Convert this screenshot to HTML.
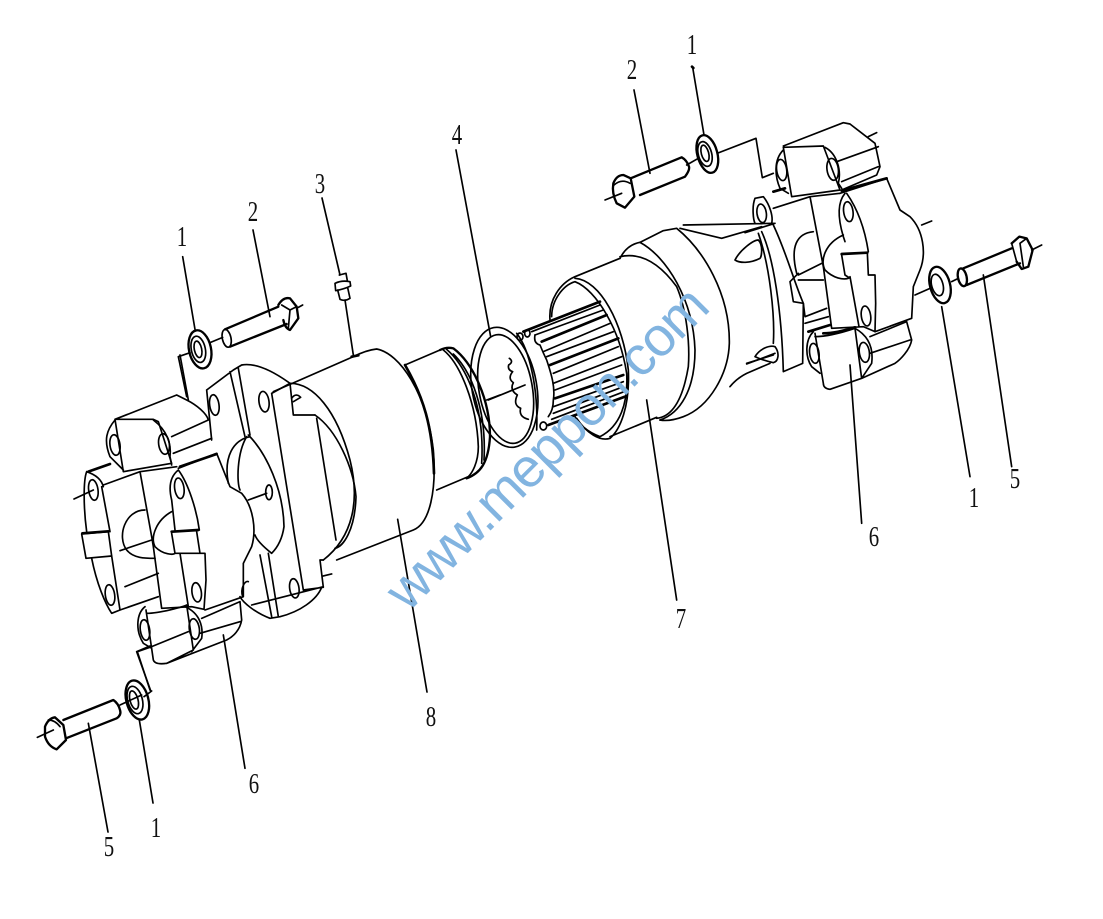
<!DOCTYPE html>
<html>
<head>
<meta charset="utf-8">
<style>
html,body{margin:0;padding:0;background:#fff;width:1103px;height:919px;overflow:hidden}
svg{display:block}
path,ellipse,line{fill:none;stroke:#000;stroke-linecap:round;stroke-linejoin:round}
.z path,.z ellipse{stroke-width:5}
.z .t{stroke-width:8}
.z .w{stroke-width:7}
.n{font-family:"Liberation Serif",serif;font-size:29px;fill:#111;text-anchor:middle}
</style>
</head>
<body>
<svg width="1103" height="919" viewBox="0 0 1103 919" xmlns="http://www.w3.org/2000/svg">
<rect width="1103" height="919" fill="#fff"/>

<!-- LEFT ASSEMBLY -->
<g class="z" transform="translate(60,340) scale(.33333)">
<path d="M640 155L880 50Q920 30 950 27C1020 40 1100 160 1120 330C1130 450 1110 550 1060 570L830 660"/>
<path class="t" d="M1035 75C1090 170 1118 260 1122 400"/>
<path class="t" d="M875 50L895 46"/>
<path d="M690 130C760 130 830 210 870 360C900 480 880 590 790 660"/>
<path d="M765 225C830 270 880 380 888 470C885 570 850 620 825 625M770 235L828 600"/>
<path d="M695 175C705 160 715 165 722 172L700 185"/>
<path d="M440 150L520 90L545 75Q600 65 690 130L700 225L765 225M440 150L455 300M635 160L730 750M510 95L555 290M535 85L570 285M635 160L690 130"/>
<ellipse cx="463" cy="195" rx="14" ry="31" transform="rotate(-8 463 195)"/>
<ellipse cx="612" cy="185" rx="15" ry="31" transform="rotate(-8 612 185)"/>
<ellipse cx="703" cy="745" rx="14" ry="29" transform="rotate(-8 703 745)"/>
<path d="M548 770C540 745 555 720 565 725"/>
<path d="M730 750L790 742L780 660L790 660M785 742C770 780 720 815 660 830L630 835C590 820 550 790 540 770M600 645L635 830M625 640L655 830M575 795L790 740M790 708L815 702"/>
<path d="M570 290C520 300 490 350 505 430M565 285C620 340 670 450 672 560C665 610 640 635 635 640C610 620 590 600 585 585M560 290C530 340 530 430 540 450"/>
<ellipse cx="627" cy="457" rx="10" ry="22"/>
<path d="M565 480L620 460"/>
<path d="M355 385L470 340L510 440L545 460C580 500 590 570 575 620L550 670L550 770L435 810"/>
<path class="t" d="M360 380L470 342"/>
<path d="M355 390C330 410 325 440 335 480L345 570M355 390C385 430 410 510 418 570"/>
<ellipse cx="358" cy="445" rx="14" ry="31" transform="rotate(-8 358 445)"/>
<path class="t" d="M335 575L415 570"/>
<path d="M335 580L345 640M410 575L420 640M345 640L435 640L438 720L432 808L395 800L305 805L280 620M360 640L385 800"/>
<ellipse cx="410" cy="757" rx="14" ry="29" transform="rotate(-8 410 757)"/>
<path d="M80 395C70 420 70 500 80 575M125 440L150 575M80 395C110 405 125 420 130 440M95 655C110 730 135 790 155 820L180 810L295 770M155 648L180 810"/>
<path d="M65 582L145 575L155 648L78 655Z"/>
<path class="t" d="M67 580L145 574M85 395L150 372"/>
<ellipse cx="100" cy="450" rx="14" ry="31" transform="rotate(-8 100 450)"/>
<ellipse cx="150" cy="765" rx="14" ry="31" transform="rotate(-8 150 765)"/>
<path d="M130 435L240 395L350 380M240 395L275 590L280 620"/>
<path d="M255 510C195 510 170 590 200 630C220 655 255 655 285 655M335 515C290 540 270 590 285 620C310 645 340 645 345 640M180 632L275 600M42 477L100 450M195 740L295 700"/>
<path d="M165 238L280 238L295 245L335 370L190 395ZM165 238L350 165L380 180C410 195 440 220 445 240M335 290L445 240M340 340L455 295M165 240C140 270 130 300 150 350L190 390"/>
<ellipse cx="165" cy="315" rx="15" ry="31" transform="rotate(-8 165 315)"/>
<ellipse cx="312" cy="312" rx="16" ry="31" transform="rotate(-8 312 312)"/>
<path d="M280 240C320 270 335 310 330 350L335 375"/>
<path d="M260 820C300 820 370 800 380 795L400 930L320 970Q285 975 280 960L258 810M255 800C230 820 225 870 250 910L275 925M375 800C420 820 430 860 425 895L395 935M425 835L540 785L545 840C540 870 520 890 500 900L320 970M420 880L540 845M275 920L385 875"/>
<ellipse cx="255" cy="870" rx="14" ry="31" transform="rotate(-8 255 870)"/>
<ellipse cx="403" cy="867" rx="15" ry="31" transform="rotate(-8 403 867)"/>
<path d="M360 45L385 180M232 935L275 920M232 935L270 1050M490 885L555 1285M1013 538L1101 1056"/>
</g>

<!-- LEFT TOP FASTENERS + SHAFT -->
<g class="z" transform="translate(170,250) scale(.33333)">
<path d="M38 20L75 238M249 -60L300 200M25 320L60 308M25 320L50 440M120 278L158 262"/>
<ellipse cx="90" cy="298" rx="33" ry="58" transform="rotate(-12 90 298)" class="w"/>
<ellipse cx="85" cy="298" rx="21" ry="40" transform="rotate(-12 85 298)"/>
<ellipse cx="84" cy="298" rx="11" ry="25" transform="rotate(-12 84 298)"/>
<ellipse cx="170" cy="265" rx="13" ry="27" transform="rotate(-12 170 265)"/>
<path class="w" d="M165 238L325 170M180 290L350 222"/>
<path class="w" d="M325 165Q340 140 360 145L380 170L385 205L360 240Q345 235 340 210"/>
<path d="M335 165L360 180L380 170M360 180L355 235M385 172L398 165"/>
<!-- grease fitting -->
<path d="M456 -156L503 45M503 45L510 75M508 75L528 70L532 92M495 100Q515 90 540 95L542 108Q520 118 497 122ZM503 120L510 148Q525 155 540 145L533 113M525 150L550 315"/>
<!-- shaft end -->
<path d="M705 345L810 300M800 720L895 680"/>
<path class="w" d="M810 300Q830 290 850 295C910 340 960 450 960 560C955 640 930 670 890 685"/>
<path d="M830 298C890 350 945 470 935 640M850 312C905 365 950 480 942 630M820 300C870 340 920 460 925 590C925 640 905 670 895 680M950 450L990 435"/>
</g>

<!-- CENTRE -->
<g class="z" transform="translate(450,210) scale(.33333)">
<ellipse cx="163" cy="532" rx="97" ry="182" transform="rotate(-10 163 532)"/>
<ellipse cx="167" cy="537" rx="80" ry="165" transform="rotate(-10 167 537)"/>
<path d="M178 445Q192 455 176 465Q172 480 188 485Q172 505 190 518Q178 540 202 555Q188 585 212 595Q205 620 235 628"/>
<path d="M115 570L225 525"/>
<path d="M200 370C240 420 265 540 260 660"/>
<path d="M375 200L510 145M375 200C330 220 295 270 300 330M305 320C305 270 340 225 375 215C440 240 510 360 530 490C535 580 510 650 450 680C410 665 385 640 375 620M375 205C450 210 520 340 535 480C540 590 510 660 480 685C450 695 410 670 380 625M480 680L620 622"/>
<path d="M510 145Q530 105 570 97C650 140 730 270 735 420C735 540 690 610 630 630M510 140Q600 120 680 230C710 300 720 400 715 470C700 560 670 620 620 625"/>
<path d="M570 97L640 62L680 55C760 120 840 250 838 400C835 490 780 590 700 620Q660 635 630 630"/>
<path d="M700 45L970 40M690 55L815 85L935 50M885 68L975 40"/>
<path d="M855 150C870 120 910 90 925 90C940 105 935 140 930 145C900 160 870 160 855 150Z"/>
<path d="M915 440C930 415 960 405 975 410C990 430 985 455 970 458Q935 450 915 440ZM890 462L975 430"/>
<path d="M590 570L680 1170M18 -180L122 380"/>
</g>

<!-- SPLINES -->
<g class="z" transform="translate(510,290) scale(.33333)">
<path class="t" d="M40 125L270 35M95 155L290 75M120 225L325 145M135 325L340 255M115 405L345 320"/>
<path d="M65 125L270 45M75 135L280 60M100 185L300 100M110 200L310 125M130 250L325 170M130 280L335 200M135 300L335 225M130 350L340 275M130 370L340 290M125 388L342 305"/>
<ellipse cx="30" cy="140" rx="9" ry="11"/>
<ellipse cx="52" cy="130" rx="8" ry="11"/>
<ellipse cx="100" cy="408" rx="10" ry="12"/>
<path d="M75 135Q70 160 90 165Q100 190 110 210Q120 240 125 260Q135 300 130 330Q130 360 115 380"/>
</g>

<!-- RIGHT ASSEMBLY -->
<g class="z" transform="translate(730,110) scale(.33333)">
<path d="M160 112L280 108L330 240L185 260ZM160 108L340 38L360 42L435 100L450 170L440 195L335 240M320 155L445 110M335 215L445 170M160 120C130 150 135 200 150 235L175 250M285 112C320 130 335 180 325 220L335 235M415 80L440 68"/>
<ellipse cx="155" cy="180" rx="15" ry="32" transform="rotate(-8 155 180)"/>
<ellipse cx="308" cy="178" rx="17" ry="33" transform="rotate(-8 308 178)"/>
<path d="M-36 129L78 85L97 203L130 190"/>
<path d="M330 250L470 205L510 300L540 320C580 360 590 430 570 480L550 530L545 625L435 665M575 345L605 333"/>
<path class="t" d="M335 242L470 205M130 245L165 235"/>
<path d="M345 250C320 280 325 330 340 380L345 395M350 250C385 300 405 360 415 425"/>
<ellipse cx="355" cy="305" rx="14" ry="30" transform="rotate(-8 355 305)"/>
<path class="t" d="M335 432L412 428"/>
<path d="M335 435L345 495L360 505M412 428L415 495L435 495L437 580L435 665L400 650L305 655L280 470M360 500L387 650"/>
<ellipse cx="408" cy="618" rx="14" ry="30" transform="rotate(-8 408 618)"/>
<path d="M75 265C65 290 70 330 75 340M75 265L100 260C120 285 130 320 125 340"/>
<ellipse cx="95" cy="310" rx="14" ry="28" transform="rotate(-8 95 310)"/>
<path d="M130 295L240 260L330 250M240 260L280 470M250 365C200 370 180 410 200 490M205 495L275 460M340 375C285 400 270 450 285 480C310 505 340 510 355 505M205 510L280 510M180 515L205 490M180 515L190 575L220 580L225 620L290 595M225 640L295 620"/>
<path d="M95 365C130 440 155 600 160 785M130 345C170 430 190 510 220 580L218 760L160 785M50 760L130 735M0 830Q20 805 50 790L120 760M85 370C120 470 135 620 130 700"/>
<path d="M255 680C300 680 360 660 375 655L395 805L300 838Q280 835 280 820L255 670M250 665C225 690 225 740 245 770L270 790M375 655C420 680 430 720 425 760L395 805M420 680L530 635L545 690C540 720 510 750 495 760L395 805M420 730L540 690"/>
<path class="t" d="M235 665L300 645M280 670C310 670 350 660 375 652"/>
<ellipse cx="253" cy="730" rx="14" ry="30" transform="rotate(-8 253 730)"/>
<ellipse cx="403" cy="727" rx="15" ry="30" transform="rotate(-8 403 727)"/>
<path d="M360 765L395 1240"/>
<path class="w" d="M700 475L845 415M710 525L870 460M845 400L868 380L890 385L908 420L895 470L875 477L860 455"/>
<path d="M845 400L860 455M870 400L890 385M870 400L880 470M905 420L935 405M555 555L600 535M665 515L685 505M760 495L845 1070M635 590L720 1100"/>
<ellipse cx="697" cy="502" rx="13" ry="27" transform="rotate(-12 697 502)" class="w"/>
<ellipse cx="630" cy="525" rx="30" ry="56" transform="rotate(-15 630 525)" class="w"/>
<ellipse cx="622" cy="525" rx="17" ry="33" transform="rotate(-15 622 525)"/>
</g>

<!-- TOP BOLT -->
<g class="z" transform="translate(590,30) scale(.33333)">
<path d="M132 180L180 430M308 112L342 315M290 405L325 385"/>
<path class="t" d="M306 110L310 114"/>
<ellipse cx="352" cy="372" rx="30" ry="58" transform="rotate(-15 352 372)" class="w"/>
<ellipse cx="345" cy="372" rx="20" ry="38" transform="rotate(-15 345 372)"/>
<ellipse cx="345" cy="370" rx="11" ry="25" transform="rotate(-15 345 370)"/>
<path class="w" d="M122 445L275 382Q290 390 297 410Q300 420 285 440L150 495"/>
<path class="w" d="M70 460Q80 435 100 435L122 445L133 500L105 533L80 520Q65 490 70 460Z"/>
<path d="M72 465Q95 445 120 460M45 510L95 490"/>
</g>

<!-- BOTTOM BOLT -->
<g class="z" transform="translate(30,640) scale(.33333)">
<path class="w" d="M45 260Q55 235 75 232L100 255L108 300L80 328Q55 320 45 290ZM100 240L250 180Q265 190 270 210Q275 225 260 235L108 295"/>
<path d="M55 240Q75 240 90 260M22 292L70 270M270 195L335 165M175 250L234 576M328 240L369 489M320 35L362 152M320 35L360 18M342 170L365 153"/>
<ellipse cx="322" cy="180" rx="33" ry="60" transform="rotate(-15 322 180)" class="w"/>
<ellipse cx="315" cy="180" rx="22" ry="42" transform="rotate(-15 315 180)"/>
<ellipse cx="312" cy="180" rx="12" ry="28" transform="rotate(-15 312 180)"/>
</g>

<!-- numbers -->
<g class="n">
<text transform="translate(182,246) scale(.72,1)">1</text>
<text transform="translate(253,221) scale(.72,1)">2</text>
<text transform="translate(320,193) scale(.72,1)">3</text>
<text transform="translate(457,144) scale(.72,1)">4</text>
<text transform="translate(632,79) scale(.72,1)">2</text>
<text transform="translate(692,54) scale(.72,1)">1</text>
<text transform="translate(1015,488) scale(.72,1)">5</text>
<text transform="translate(974,507) scale(.72,1)">1</text>
<text transform="translate(874,546) scale(.72,1)">6</text>
<text transform="translate(681,628) scale(.72,1)">7</text>
<text transform="translate(431,726) scale(.72,1)">8</text>
<text transform="translate(254,793) scale(.72,1)">6</text>
<text transform="translate(156,837) scale(.72,1)">1</text>
<text transform="translate(109,856) scale(.72,1)">5</text>
</g>

<!-- watermark -->
<text transform="translate(408,613) rotate(-45)" textLength="430" lengthAdjust="spacing" font-family="'Liberation Sans',sans-serif" font-size="55" fill="#82b4e0">www.meppon.com</text>
</svg>
</body>
</html>
